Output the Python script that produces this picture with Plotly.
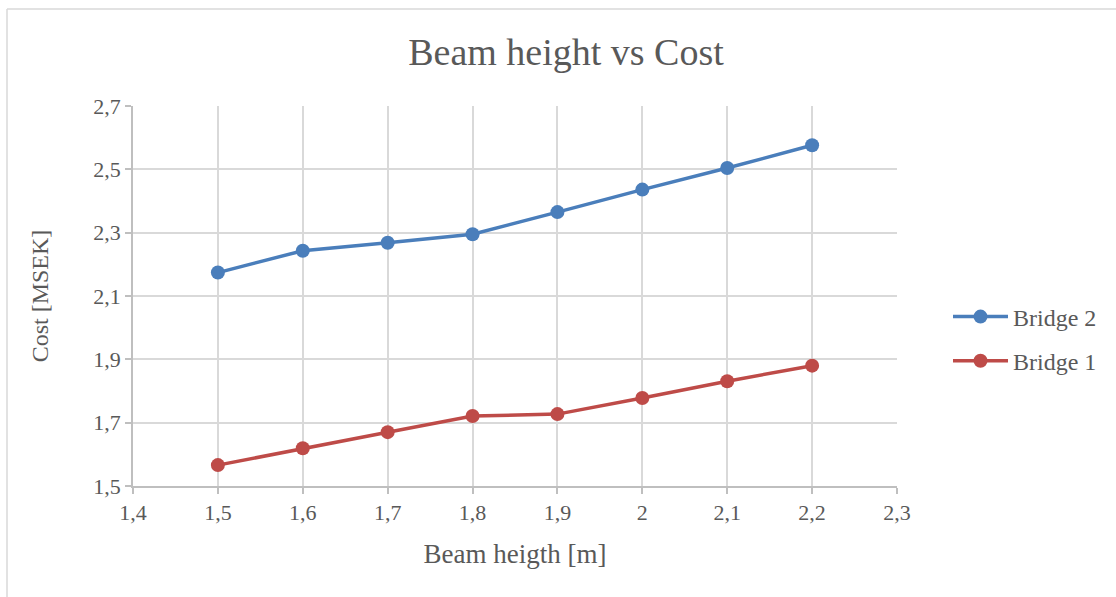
import plotly.graph_objects as go

beam_height = [1.5, 1.6, 1.7, 1.8, 1.9, 2.0, 2.1, 2.2]
bridge2_cost = [2.174, 2.243, 2.268, 2.295, 2.365, 2.436, 2.504, 2.576]
bridge1_cost = [1.566, 1.619, 1.670, 1.721, 1.727, 1.778, 1.831, 1.880]

FONT = "Liberation Serif"
GRAY = "#595959"

fig = go.Figure()
fig.add_trace(go.Scatter(x=beam_height, y=bridge2_cost, name="Bridge 2", mode="lines+markers",
                         legendgroup="b2",
                         line=dict(color="#4a7ebb", width=3.5),
                         marker=dict(size=14, color="#4a7ebb")))
fig.add_trace(go.Scatter(x=beam_height, y=bridge1_cost, name="Bridge 1", mode="lines+markers",
                         legendgroup="b1",
                         line=dict(color="#be4b48", width=3.5),
                         marker=dict(size=14, color="#be4b48")))

W, H = 1116, 597
L, R, T, B = 133, 219, 106, 111
pw, ph = W - L - R, H - T - B

def px(x):
    return (x - L) / pw

def py(y):
    return (H - B - y) / ph

fig.add_shape(type="line", xref="paper", yref="paper", x0=px(7), x1=px(1116), y0=py(9), y1=py(9),
              line=dict(color="#d9d9d9", width=1.5))
fig.add_shape(type="line", xref="paper", yref="paper", x0=px(7), x1=px(7), y0=py(9), y1=py(597),
              line=dict(color="#d9d9d9", width=1.5))

fig.update_layout(
    width=W, height=H,
    margin=dict(l=L, r=R, t=T, b=B),
    paper_bgcolor="white", plot_bgcolor="white",
    separators=", ",
    font=dict(family=FONT, color=GRAY, size=22),
    title=dict(text="Beam height vs Cost", x=566 / W, xanchor="center", xref="container",
               y=1 - 52 / H, yanchor="middle", font=dict(size=38, color=GRAY, family=FONT)),
    legend=dict(x=px(948), y=py(339), xanchor="left", yanchor="middle",
                font=dict(size=24, color=GRAY, family=FONT), traceorder="grouped",
                tracegroupgap=10, itemwidth=55,
                bgcolor="rgba(0,0,0,0)"),
    xaxis=dict(range=[1.4, 2.3], tick0=1.4, dtick=0.1, showgrid=True, gridcolor="#d9d9d9", gridwidth=1.5,
               showline=True, linecolor="#bfbfbf", linewidth=1.5, ticks="outside", ticklen=6,
               tickcolor="#bfbfbf", tickwidth=1.5, zeroline=False,
               tickfont=dict(size=22, color=GRAY, family=FONT),
               title=dict(text="Beam heigth [m]", font=dict(size=27, color=GRAY, family=FONT), standoff=20)),
    yaxis=dict(range=[1.5, 2.7], tick0=1.5, dtick=0.2, showgrid=True, gridcolor="#d9d9d9", gridwidth=1.5,
               showline=True, linecolor="#bfbfbf", linewidth=1.5, ticks="outside", ticklen=6,
               tickcolor="#bfbfbf", tickwidth=1.5, zeroline=False,
               tickfont=dict(size=22, color=GRAY, family=FONT),
               title=dict(text="Cost [MSEK]", font=dict(size=24, color=GRAY, family=FONT), standoff=38)),
)

fig.write_html("out.html")
